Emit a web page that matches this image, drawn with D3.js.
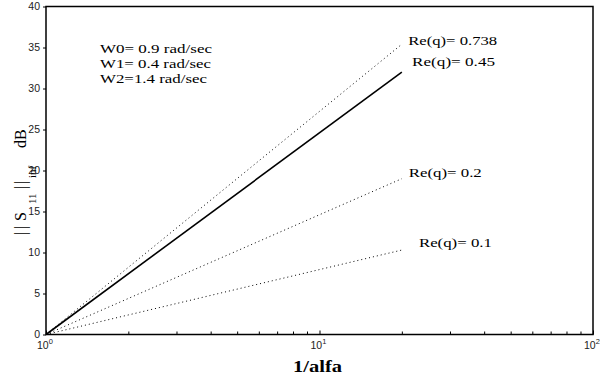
<!DOCTYPE html>
<html lang="en">
<head>
<meta charset="UTF-8">
<title>|S11| vs 1/alfa</title>
<style>
    body { margin: 0; background: white; }
    svg { display: block; }
    .tick-label { font-family: "Liberation Sans", Arial, sans-serif; font-size: 10.5px; fill: #222; }
    .serif { font-family: "Liberation Serif", "Times New Roman", serif; fill: black; }
</style>
</head>
<body>
<svg id="chart" width="600" height="385"></svg>
<script src="https://cdn.jsdelivr.net/npm/d3@7"></script>
<script>

// each curve: value at 1/alfa = 1 and at 1/alfa = 20 (straight on the log axis)
const inverseAlfa = [1, 20];
const reQ = ["0.738", "0.45", "0.2", "0.1"];
const gainDb = [
    [0, 35.4],
    [0, 32.0],
    [0, 19.0],
    [0, 10.3]
];
const lineKind = ["dotted", "solid", "dotted", "dotted"];

// curve labels, placed in data units
const labelX = [21.1, 21.8, 21.2, 23.1];
const labelY = [35.3, 32.7, 19.2, 10.7];
const labelWidth = [89, 83, 73, 73];

const notes = ["W0= 0.9 rad/sec", "W1= 0.4 rad/sec", "W2=1.4 rad/sec"];
const noteWidth = [112, 111, 107];

const yTicks = [0, 5, 10, 15, 20, 25, 30, 35, 40];
const xMajor = [1, 10, 100];
const xMinor = [2, 3, 4, 5, 6, 7, 8, 9, 20, 30, 40, 50, 60, 70, 80, 90];

const plotLeft = 46, plotRight = 593, plotTop = 6.5, plotBottom = 334.5;

const x = d3.scaleLog().domain([1, 100]).range([plotLeft, plotRight]);
const y = d3.scaleLinear().domain([0, 40]).range([plotBottom, plotTop]);

const svg = d3.select("#chart");

// frame
svg.append("rect")
    .attr("x", plotLeft)
    .attr("y", plotTop)
    .attr("width", plotRight - plotLeft)
    .attr("height", plotBottom - plotTop)
    .attr("fill", "none")
    .attr("stroke", "black")
    .attr("stroke-width", 1.5);

// y axis ticks (outward) and labels
const yAxis = svg.append("g")
    .attr("transform", `translate(${plotLeft},0)`)
    .call(d3.axisLeft(y).tickValues(yTicks).tickSize(3).tickPadding(3));
yAxis.select(".domain").remove();
yAxis.selectAll("line").attr("stroke-width", 1);
yAxis.selectAll("text")
    .attr("class", "tick-label");
yAxis.attr("font-size", null).attr("font-family", null);

// x axis ticks (inward)
const xAxis = svg.append("g")
    .attr("transform", `translate(0,${plotBottom})`)
    .call(d3.axisBottom(x).tickValues(xMajor.concat(xMinor)).tickSize(-4).tickFormat(""));
xAxis.select(".domain").remove();
xAxis.selectAll(".tick")
    .filter(d => xMinor.includes(d))
    .select("line")
    .attr("y2", -3);

const xLabels = svg.append("g").selectAll("text")
    .data(xMajor)
    .join("text")
    .attr("class", "tick-label")
    .attr("x", d => x(d) - 9)
    .attr("y", 349);
xLabels.append("tspan").text("10");
xLabels.append("tspan")
    .attr("dy", -5)
    .attr("font-size", "7.5px")
    .text(d => Math.round(Math.log10(d)));

// curves
const line = d3.line()
    .x((d, i) => x(inverseAlfa[i]))
    .y(d => y(d));

svg.append("g").selectAll("path")
    .data(gainDb)
    .join("path")
    .attr("d", line)
    .attr("fill", "none")
    .attr("stroke", "black")
    .attr("stroke-width", (d, i) => lineKind[i] === "solid" ? 1.6 : 1)
    .attr("stroke-dasharray", (d, i) => lineKind[i] === "solid" ? null : "1,3");

// curve labels
svg.append("g").selectAll("text")
    .data(reQ)
    .join("text")
    .attr("class", "serif")
    .attr("x", (d, i) => x(labelX[i]))
    .attr("y", (d, i) => y(labelY[i]))
    .attr("font-size", "13px")
    .attr("textLength", (d, i) => labelWidth[i])
    .attr("lengthAdjust", "spacingAndGlyphs")
    .text(d => `Re(q)= ${d}`);

// parameter notes
svg.append("g").selectAll("text")
    .data(notes)
    .join("text")
    .attr("class", "serif")
    .attr("x", 100)
    .attr("y", (d, i) => 52.5 + i * 15)
    .attr("font-size", "12.5px")
    .attr("textLength", (d, i) => noteWidth[i])
    .attr("lengthAdjust", "spacingAndGlyphs")
    .text(d => d);

// axis titles
svg.append("text")
    .attr("class", "serif")
    .attr("x", 317.5)
    .attr("y", 372)
    .attr("text-anchor", "middle")
    .attr("font-size", "16px")
    .attr("font-weight", "bold")
    .attr("textLength", 49)
    .attr("lengthAdjust", "spacingAndGlyphs")
    .text("1/alfa");

// rotated title, pieces placed along the axis (local x = -screen y)
const yTitle = svg.append("text")
    .attr("class", "serif")
    .attr("transform", "translate(26,0) rotate(-90)")
    .attr("font-size", "16px");
yTitle.append("tspan").attr("x", -235).attr("y", 0).text("|");
yTitle.append("tspan").attr("x", -229).attr("y", 0).text("|");
yTitle.append("tspan").attr("x", -221).attr("y", 0).text("S");
yTitle.append("tspan").attr("x", -204).attr("y", 10).attr("font-size", "11px").text("11");
yTitle.append("tspan").attr("x", -189).attr("y", 0).text("|");
yTitle.append("tspan").attr("x", -184).attr("y", 0).text("|");
yTitle.append("tspan").attr("x", -178).attr("y", 10).attr("font-size", "11px").text("inf");
yTitle.append("tspan").attr("x", -148).attr("y", 0).text("dB");

</script>
</body>
</html>
